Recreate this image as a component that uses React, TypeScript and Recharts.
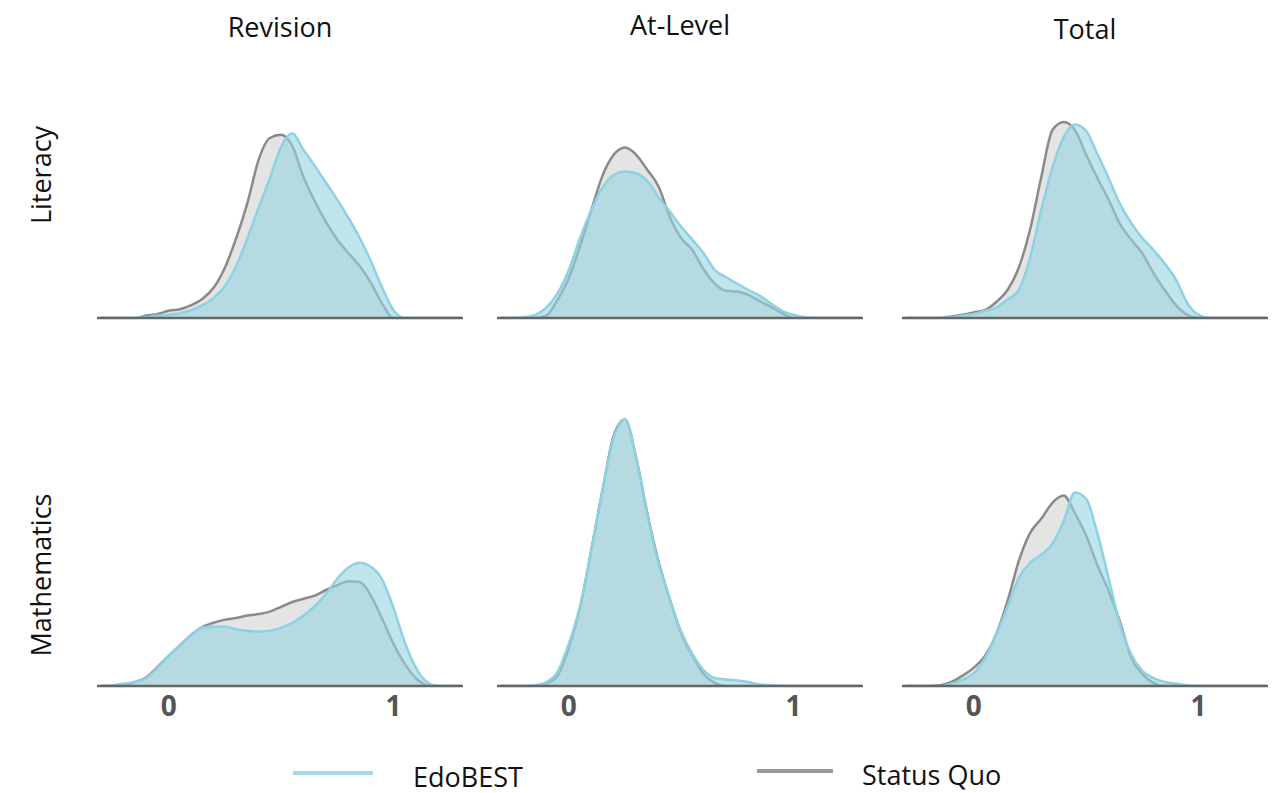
import { Area, AreaChart, ReferenceLine, XAxis, YAxis } from "recharts";

// shared x grid (score) for every density curve
const xGrid = [
	-0.3, -0.25, -0.2, -0.15, -0.1, -0.05, 0, 0.05, 0.1, 0.15, 0.2, 0.25, 0.3, 0.35, 0.4, 0.45, 0.5,
	0.55, 0.6, 0.65, 0.7, 0.75, 0.8, 0.85, 0.9, 0.95, 1.0, 1.05, 1.1, 1.15, 1.2, 1.25, 1.3,
];

const columns = ["Revision", "At-Level", "Total"];
const rows = ["Literacy", "Mathematics"];
const xTicks = [0, 1];

// Literacy
const litRevEdo = [0, 0, 0, 0, 0.01, 0.03, 0.04, 0.06, 0.1, 0.16, 0.25, 0.4, 0.65, 1.0, 1.38, 1.75, 2.14, 2.31, 2.1, 1.9, 1.69, 1.48, 1.25, 1.0, 0.71, 0.38, 0.1, 0, 0, 0, 0, 0, 0];
const litRevSq = [0, 0, 0, 0, 0.03, 0.05, 0.09, 0.11, 0.16, 0.24, 0.38, 0.63, 1.0, 1.44, 1.98, 2.25, 2.29, 2.15, 1.76, 1.46, 1.2, 0.98, 0.81, 0.65, 0.44, 0.18, 0, 0, 0, 0, 0, 0, 0];
const litLevEdo = [0, 0, 0.01, 0.04, 0.13, 0.31, 0.6, 1.0, 1.35, 1.63, 1.79, 1.83, 1.81, 1.71, 1.51, 1.33, 1.14, 0.98, 0.81, 0.6, 0.51, 0.43, 0.35, 0.28, 0.18, 0.09, 0.04, 0.01, 0, 0, 0, 0, 0];
const litLevSq = [0, 0, 0, 0, 0.03, 0.23, 0.5, 0.9, 1.35, 1.78, 2.04, 2.13, 2.04, 1.85, 1.64, 1.26, 1.0, 0.85, 0.61, 0.43, 0.34, 0.33, 0.29, 0.21, 0.14, 0.06, 0, 0, 0, 0, 0, 0, 0];
const litTotEdo = [0, 0, 0, 0, 0.01, 0.03, 0.05, 0.09, 0.13, 0.23, 0.35, 0.75, 1.35, 1.88, 2.26, 2.42, 2.34, 2.05, 1.75, 1.43, 1.19, 1.0, 0.85, 0.68, 0.48, 0.19, 0.04, 0, 0, 0, 0, 0, 0];
const litTotSq = [0, 0, 0, 0, 0.02, 0.04, 0.07, 0.1, 0.2, 0.35, 0.63, 1.1, 1.76, 2.35, 2.45, 2.35, 2.04, 1.75, 1.48, 1.18, 0.98, 0.81, 0.56, 0.35, 0.16, 0.04, 0, 0, 0, 0, 0, 0, 0];

// Mathematics
const mathRevEdo = [0, 0.01, 0.03, 0.05, 0.1, 0.23, 0.38, 0.51, 0.64, 0.73, 0.74, 0.74, 0.71, 0.69, 0.68, 0.69, 0.73, 0.79, 0.88, 1.0, 1.15, 1.34, 1.48, 1.54, 1.49, 1.33, 0.98, 0.55, 0.23, 0.05, 0, 0, 0];
const mathRevSq = [0, 0, 0.01, 0.05, 0.11, 0.24, 0.38, 0.51, 0.64, 0.74, 0.79, 0.83, 0.85, 0.88, 0.9, 0.93, 0.99, 1.05, 1.09, 1.13, 1.2, 1.26, 1.31, 1.3, 1.13, 0.84, 0.53, 0.28, 0.1, 0.01, 0, 0, 0];
const mathLevEdo = [0, 0, 0, 0.01, 0.05, 0.18, 0.53, 1.0, 1.7, 2.45, 3.1, 3.33, 2.85, 2.13, 1.53, 1.08, 0.68, 0.4, 0.2, 0.1, 0.08, 0.07, 0.05, 0.02, 0.01, 0, 0, 0, 0, 0, 0, 0, 0];
const mathLevSq = [0, 0, 0, 0, 0.03, 0.13, 0.48, 0.98, 1.7, 2.45, 3.13, 3.33, 2.85, 2.15, 1.55, 1.08, 0.66, 0.38, 0.15, 0.04, 0, 0, 0, 0, 0, 0, 0, 0, 0, 0, 0, 0, 0];
const mathTotEdo = [0, 0, 0, 0, 0.03, 0.08, 0.16, 0.35, 0.65, 0.99, 1.35, 1.54, 1.64, 1.78, 2.06, 2.42, 2.34, 1.91, 1.35, 0.78, 0.4, 0.19, 0.1, 0.05, 0.03, 0.01, 0, 0, 0, 0, 0, 0, 0];
const mathTotSq = [0, 0, 0, 0.01, 0.05, 0.13, 0.23, 0.38, 0.65, 1.06, 1.56, 1.91, 2.09, 2.29, 2.38, 2.16, 1.88, 1.51, 1.19, 0.81, 0.36, 0.15, 0.04, 0, 0, 0, 0, 0, 0, 0, 0, 0, 0];

const panels = [
	[
		[litRevEdo, litRevSq],
		[litLevEdo, litLevSq],
		[litTotEdo, litTotSq],
	],
	[
		[mathRevEdo, mathRevSq],
		[mathLevEdo, mathLevSq],
		[mathTotEdo, mathTotSq],
	],
];

const FONT = "'Open Sans', 'DejaVu Sans', sans-serif";
const EDO_LINE = "#8dd2e2";
const EDO_FILL = "#96d3df";
const SQ_LINE = "#8a8a8a";
const SQ_FILL = "#e4e4e4";

const colLeft = [97, 497, 902];
const titleTop = [8, 6, 10];
const rowTop = [30, 398];
const PANEL_W = 366;
const PLOT_H = 288;
const AXIS_H = 44;

function Panel({ edo, sq, showTicks }: { edo: number[]; sq: number[]; showTicks: boolean }) {
	const data = xGrid.map((x, i) => ({ x, edo: edo[i], sq: sq[i] }));
	return (
		<AreaChart width={PANEL_W} height={PLOT_H + AXIS_H} data={data} margin={{ top: 0, right: 0, bottom: 0, left: 0 }}>
			<XAxis
				dataKey="x"
				type="number"
				domain={[-0.32, 1.31]}
				ticks={xTicks}
				allowDataOverflow
				axisLine={false}
				tickLine={false}
				height={AXIS_H}
				tickMargin={4}
				tick={showTicks ? { fill: "#555", fontSize: 28, fontWeight: 700, fontFamily: FONT } : false}
			/>
			<YAxis hide domain={[0, 3.6]} allowDataOverflow />
			<Area type="monotone" dataKey="sq" stroke={SQ_LINE} strokeWidth={2.5} fill={SQ_FILL} fillOpacity={1} isAnimationActive={false} />
			<Area type="monotone" dataKey="edo" stroke={EDO_LINE} strokeWidth={2.5} fill={EDO_FILL} fillOpacity={0.6} isAnimationActive={false} />
			<ReferenceLine y={0} stroke="#666" strokeWidth={2.5} />
		</AreaChart>
	);
}

export default function App() {
	return (
		<div style={{ position: "absolute", left: 0, top: 0, width: 1274, height: 793, background: "white", fontFamily: FONT, color: "#111" }}>
			{columns.map((c, i) => (
				<div key={c} style={{ position: "absolute", left: colLeft[i], width: PANEL_W, top: titleTop[i], textAlign: "center", fontSize: 27 }}>
					{c}
				</div>
			))}
			{rows.map((r, i) => (
				<div
					key={r}
					style={{
						position: "absolute",
						left: 40,
						top: i === 0 ? 175 : 575,
						transform: "translate(-50%, -50%) rotate(-90deg)",
						fontSize: 27,
						whiteSpace: "nowrap",
					}}
				>
					{r}
				</div>
			))}
			{panels.map((row, r) =>
				row.map(([edo, sq], c) => (
					<div key={`${r}-${c}`} style={{ position: "absolute", left: colLeft[c], top: rowTop[r] }}>
						<Panel edo={edo} sq={sq} showTicks={r === 1} />
					</div>
				)),
			)}
			<div style={{ position: "absolute", left: 293, top: 771, width: 80, height: 4, background: "#a3dbe8" }} />
			<div style={{ position: "absolute", left: 413, top: 758, fontSize: 27 }}>EdoBEST</div>
			<div style={{ position: "absolute", left: 757, top: 769, width: 76, height: 4, background: "#9a9a9a" }} />
			<div style={{ position: "absolute", left: 862, top: 756, fontSize: 27 }}>Status Quo</div>
		</div>
	);
}
